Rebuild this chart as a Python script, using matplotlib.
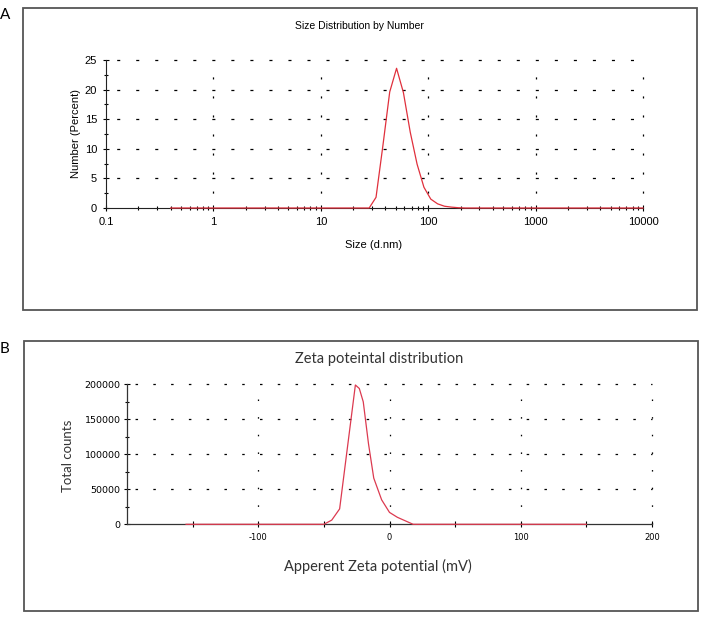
import matplotlib
matplotlib.use("Agg")
import matplotlib.pyplot as plt
from matplotlib.patches import Rectangle
from matplotlib.ticker import FixedLocator, MultipleLocator, LogLocator, NullFormatter, FuncFormatter

plt.rcParams['lines.scale_dashes'] = False

# ---------------- data ----------------
size_nm = [0.4, 28.21, 32.67, 37.84, 43.82, 50.75, 58.77, 68.06, 78.82, 91.28,
           105.7, 122.4, 141.8, 164.2, 190.1, 220.2, 10000]
number_pct = [0, 0, 1.8, 10.5, 19.6, 23.6, 19.5, 12.8, 7.4, 3.5,
              1.5, 0.7, 0.3, 0.15, 0.05, 0, 0]
size_ticks = [0.1, 1, 10, 100, 1000, 10000]
size_ticklabels = ["0.1", "1", "10", "100", "1000", "10000"]
number_ticks = [0, 5, 10, 15, 20, 25]

zeta_mv = [-155, -50, -44, -38, -26, -23, -20, -16, -12, -6, 0, 6, 18, 150]
zeta_counts = [0, 0, 6000, 22000, 199000, 194000, 175000, 115000, 66000, 35000,
               17000, 10000, 0, 0]
zeta_ticks = [-150, -100, -50, 0, 50, 100, 150, 200]
zeta_ticklabels = ["", "-100", "", "0", "", "100", "", "200"]
count_ticks = [0, 50000, 100000, 150000, 200000]
count_ticklabels = ["0", "50000", "100000", "150000", "200000"]

W, H = 716, 632
fig = plt.figure(figsize=(W / 100, H / 100), dpi=100)

def fx(px):
    return px / W

def fy(py):
    return 1 - py / H

# panel boxes
fig.patches.append(Rectangle((fx(23), fy(310)), (697 - 23) / W, (310 - 8) / H,
                             transform=fig.transFigure, fill=False,
                             edgecolor='#555555', linewidth=1.3))
fig.patches.append(Rectangle((fx(24), fy(611)), (698 - 24) / W, (611 - 341) / H,
                             transform=fig.transFigure, fill=False,
                             edgecolor='#555555', linewidth=1.3))

calibri = ['Lato', 'DejaVu Sans']
arial = ['Liberation Sans', 'DejaVu Sans']

fig.text(fx(0), fy(15), "A", fontsize=11, family=calibri, va='center', ha='left')
fig.text(fx(0), fy(349), "B", fontsize=11, family=calibri, va='center', ha='left')

# ---------------- panel A ----------------
axA = fig.add_axes([fx(106), fy(208), (643 - 106) / W, (208 - 60) / H])
axA.set_xscale('log')
axA.set_xlim(0.1, 10000)
axA.set_ylim(0, 25)
for s in ['top', 'right']:
    axA.spines[s].set_visible(False)
for s in ['left', 'bottom']:
    axA.spines[s].set_linewidth(0.8)
    axA.spines[s].set_color('#222222')

for v in number_ticks[1:]:
    axA.axhline(v, color='black', linewidth=0.9, linestyle=(6, (2.2, 11.5)), zorder=1,
                clip_on=False)
for v in size_ticks[1:]:
    axA.axvline(v, color='black', linewidth=0.9, linestyle=(3, (1.5, 12.2)), zorder=1,
                clip_on=False)

axA.plot(size_nm, number_pct, color='#e0303c', linewidth=0.9, clip_on=False, zorder=5)

axA.xaxis.set_major_locator(FixedLocator(size_ticks))
axA.xaxis.set_major_formatter(FuncFormatter(lambda v, p: size_ticklabels[size_ticks.index(v)] if v in size_ticks else ""))
axA.xaxis.set_minor_locator(LogLocator(base=10, subs=range(2, 10), numticks=20))
axA.xaxis.set_minor_formatter(NullFormatter())
axA.yaxis.set_major_locator(FixedLocator(number_ticks))
axA.yaxis.set_minor_locator(MultipleLocator(2.5))
axA.tick_params(axis='both', which='major', direction='inout', length=5, width=0.8,
                labelsize=8, pad=4)
axA.tick_params(axis='both', which='minor', direction='inout', length=3, width=0.8)
for lab in axA.get_xticklabels() + axA.get_yticklabels():
    lab.set_family(arial)

fig.text(fx(359), fy(26), "Size Distribution by Number", fontsize=7.5, family=arial,
         ha='center', va='center')
fig.text(fx(374), fy(245), "Size (d.nm)", fontsize=8, family=arial, ha='center', va='center')
fig.text(fx(76), fy(134), "Number (Percent)", fontsize=8, family=arial, ha='center',
         va='center', rotation=90)

# ---------------- panel B ----------------
axB = fig.add_axes([fx(127), fy(524.3), (652 - 127) / W, (524.3 - 384.3) / H])
axB.set_xlim(-200, 200)
axB.set_ylim(0, 200000)
for s in ['top', 'right']:
    axB.spines[s].set_visible(False)
for s in ['left', 'bottom']:
    axB.spines[s].set_linewidth(0.9)
    axB.spines[s].set_color('#333333')

for v in count_ticks[1:]:
    axB.axhline(v, color='black', linewidth=0.9, linestyle=(7, (1.8, 11.0)), zorder=1,
                clip_on=False)
for v in [-100, 0, 100, 200]:
    axB.axvline(v, color='black', linewidth=0.9, linestyle=(0, (1.1, 11.6)), zorder=1,
                clip_on=False)

axB.plot(zeta_mv, zeta_counts, color='#dc3a50', linewidth=0.9, clip_on=False, zorder=5)

axB.xaxis.set_major_locator(FixedLocator(zeta_ticks))
axB.set_xticklabels(zeta_ticklabels)
axB.yaxis.set_major_locator(FixedLocator(count_ticks))
axB.set_yticklabels(count_ticklabels)
axB.yaxis.set_minor_locator(MultipleLocator(25000))
axB.tick_params(axis='both', which='major', direction='inout', length=5, width=0.8,
                labelsize=6, pad=4)
axB.tick_params(axis='y', which='major', labelsize=6.8, pad=2)
axB.tick_params(axis='both', which='minor', direction='inout', length=3, width=0.8)

fig.text(fx(379), fy(359), "Zeta poteintal distribution", fontsize=10.5, family=calibri,
         ha='center', va='center', color='#333333')
fig.text(fx(378), fy(566), "Apperent Zeta potential (mV)", fontsize=10.5, family=calibri,
         ha='center', va='center', color='#333333')
fig.text(fx(68), fy(456), "Total counts", fontsize=9.5, family=calibri, ha='center',
         va='center', rotation=90, color='#333333')

fig.savefig("out.png", dpi=100)
